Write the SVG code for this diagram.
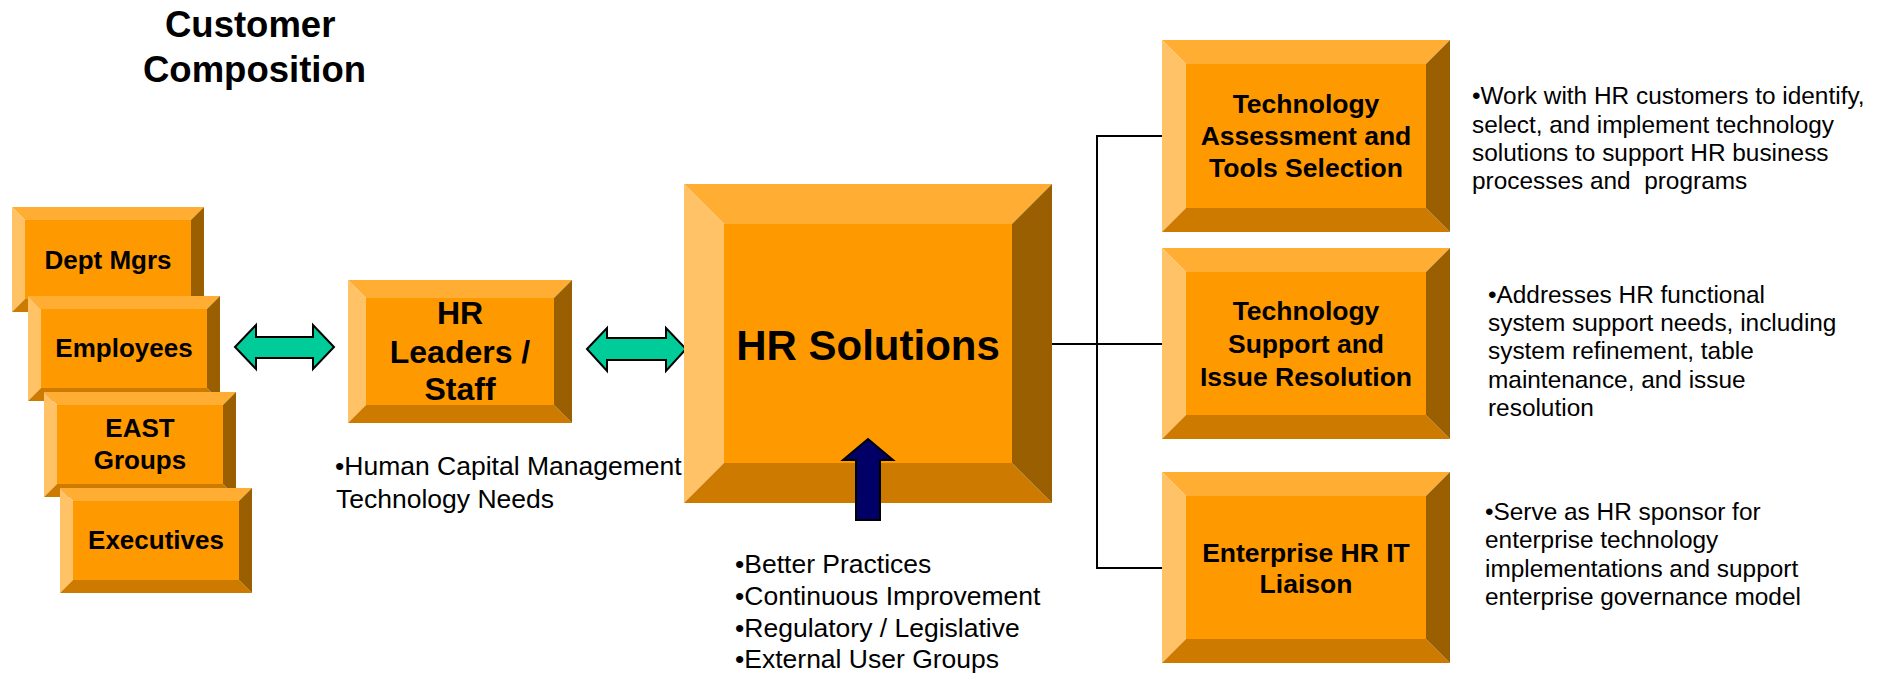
<svg xmlns="http://www.w3.org/2000/svg" width="1879" height="674" viewBox="0 0 1879 674">
<defs>
<style>
.t{fill:#FFAD33}.l{fill:#FFC266}.b{fill:#CC7A00}.r{fill:#9A5F00}.f{fill:#FF9900}
text{font-family:"Liberation Sans",Arial,sans-serif;fill:#000}
.bx{font-weight:bold;text-anchor:middle}
.s26{font-size:26px}.s26r{font-size:26.5px}.s31{font-size:32px}.s42{font-size:42px}
.body{font-size:26.5px}.rt{font-size:24.4px}
.title{font-size:36.5px;font-weight:bold}
.conn{stroke:#000;stroke-width:2;fill:none}
.garrow{fill:#00CC99;stroke:#000;stroke-width:2;stroke-linejoin:miter}
.narrow{fill:#000066;stroke:#000;stroke-width:2}
</style>
</defs>
<rect width="1879" height="674" fill="#fff"/>

<g id="title">
<text class="title" x="165" y="37">Customer</text>
<text class="title" x="143" y="82">Composition</text>
</g>

<g id="connectors">
<path class="conn" d="M1052,344 H1162 M1162,136 H1097 V568 H1162"/>
<path class="garrow" d="M235,347 L256,325 L256,337 L313,337 L313,325 L334,347 L313,369 L313,358 L256,358 L256,369 Z"/>
<path class="garrow" d="M587,349 L607,328 L607,338 L666,338 L666,328 L686,349 L666,371 L666,360 L607,360 L607,371 Z"/>
</g>

<g id="dept-mgrs">
<polygon class="t" points="12,207 204,207 191,220 25,220"/>
<polygon class="l" points="12,207 25,220 25,299 12,312"/>
<polygon class="b" points="12,312 25,299 191,299 204,312"/>
<polygon class="r" points="204,207 204,312 191,299 191,220"/>
<rect class="f" x="25" y="220" width="166" height="79"/>
<text class="bx s26" x="108" y="269">Dept Mgrs</text>
</g>

<g id="employees">
<polygon class="t" points="28,296 220,296 207,309 41,309"/>
<polygon class="l" points="28,296 41,309 41,388 28,401"/>
<polygon class="b" points="28,401 41,388 207,388 220,401"/>
<polygon class="r" points="220,296 220,401 207,388 207,309"/>
<rect class="f" x="41" y="309" width="166" height="79"/>
<text class="bx s26" x="124" y="357">Employees</text>
</g>

<g id="east-groups">
<polygon class="t" points="44,392 236,392 223,405 57,405"/>
<polygon class="l" points="44,392 57,405 57,484 44,497"/>
<polygon class="b" points="44,497 57,484 223,484 236,497"/>
<polygon class="r" points="236,392 236,497 223,484 223,405"/>
<rect class="f" x="57" y="405" width="166" height="79"/>
<text class="bx s26" x="140" y="437">EAST</text>
<text class="bx s26" x="140" y="469">Groups</text>
</g>

<g id="executives">
<polygon class="t" points="60,488 252,488 239,501 73,501"/>
<polygon class="l" points="60,488 73,501 73,580 60,593"/>
<polygon class="b" points="60,593 73,580 239,580 252,593"/>
<polygon class="r" points="252,488 252,593 239,580 239,501"/>
<rect class="f" x="73" y="501" width="166" height="79"/>
<text class="bx s26" x="156" y="549">Executives</text>
</g>

<g id="hr-leaders">
<polygon class="t" points="348,280 572,280 554,298 366,298"/>
<polygon class="l" points="348,280 366,298 366,405 348,423"/>
<polygon class="b" points="348,423 366,405 554,405 572,423"/>
<polygon class="r" points="572,280 572,423 554,405 554,298"/>
<rect class="f" x="366" y="298" width="188" height="107"/>
<text class="bx s31" x="460" y="324">HR</text>
<text class="bx s31" x="460" y="363">Leaders /</text>
<text class="bx s31" x="460" y="400">Staff</text>
</g>

<g id="hcm-note">
<text class="body" x="335" y="475">•Human Capital Management</text>
<text class="body" x="336" y="508">Technology Needs</text>
</g>

<g id="hr-solutions">
<polygon class="t" points="684,184 1052,184 1012,224 724,224"/>
<polygon class="l" points="684,184 724,224 724,463 684,503"/>
<polygon class="b" points="684,503 724,463 1012,463 1052,503"/>
<polygon class="r" points="1052,184 1052,503 1012,463 1012,224"/>
<rect class="f" x="724" y="224" width="288" height="239"/>
<text class="bx s42" x="868" y="360">HR Solutions</text>
</g>

<g id="input-arrow">
<path class="narrow" d="M868,439 L893,460 L880,460 L880,520 L856,520 L856,460 L843,460 Z"/>
</g>

<g id="inputs-note">
<text class="body" x="735" y="573">•Better Practices</text>
<text class="body" x="735" y="605">•Continuous Improvement</text>
<text class="body" x="735" y="637">•Regulatory / Legislative</text>
<text class="body" x="735" y="668">•External User Groups</text>
</g>

<g id="tech-assessment">
<polygon class="t" points="1162,40 1450,40 1426,64 1186,64"/>
<polygon class="l" points="1162,40 1186,64 1186,208 1162,232"/>
<polygon class="b" points="1162,232 1186,208 1426,208 1450,232"/>
<polygon class="r" points="1450,40 1450,232 1426,208 1426,64"/>
<rect class="f" x="1186" y="64" width="240" height="144"/>
<text class="bx s26r" x="1306" y="113">Technology</text>
<text class="bx s26r" x="1306" y="145">Assessment and</text>
<text class="bx s26r" x="1306" y="177">Tools Selection</text>
</g>

<g id="tech-support">
<polygon class="t" points="1162,248 1450,248 1426,272 1186,272"/>
<polygon class="l" points="1162,248 1186,272 1186,415 1162,439"/>
<polygon class="b" points="1162,439 1186,415 1426,415 1450,439"/>
<polygon class="r" points="1450,248 1450,439 1426,415 1426,272"/>
<rect class="f" x="1186" y="272" width="240" height="143"/>
<text class="bx s26r" x="1306" y="320">Technology</text>
<text class="bx s26r" x="1306" y="353">Support and</text>
<text class="bx s26r" x="1306" y="386">Issue Resolution</text>
</g>

<g id="enterprise-liaison">
<polygon class="t" points="1162,472 1450,472 1426,496 1186,496"/>
<polygon class="l" points="1162,472 1186,496 1186,639 1162,663"/>
<polygon class="b" points="1162,663 1186,639 1426,639 1450,663"/>
<polygon class="r" points="1450,472 1450,663 1426,639 1426,496"/>
<rect class="f" x="1186" y="496" width="240" height="143"/>
<text class="bx s26r" x="1306" y="562">Enterprise HR IT</text>
<text class="bx s26r" x="1306" y="593">Liaison</text>
</g>

<g id="note-assessment">
<text class="rt" x="1472" y="104">•Work with HR customers to identify,</text>
<text class="rt" x="1472" y="133">select, and implement technology</text>
<text class="rt" x="1472" y="161">solutions to support HR business</text>
<text class="rt" x="1472" y="189" xml:space="preserve">processes and  programs</text>
</g>

<g id="note-support">
<text class="rt" x="1488" y="303">•Addresses HR functional</text>
<text class="rt" x="1488" y="331">system support needs, including</text>
<text class="rt" x="1488" y="359">system refinement, table</text>
<text class="rt" x="1488" y="388">maintenance, and issue</text>
<text class="rt" x="1488" y="416">resolution</text>
</g>

<g id="note-liaison">
<text class="rt" x="1485" y="520">•Serve as HR sponsor for</text>
<text class="rt" x="1485" y="548">enterprise technology</text>
<text class="rt" x="1485" y="577">implementations and support</text>
<text class="rt" x="1485" y="605">enterprise governance model</text>
</g>
</svg>
